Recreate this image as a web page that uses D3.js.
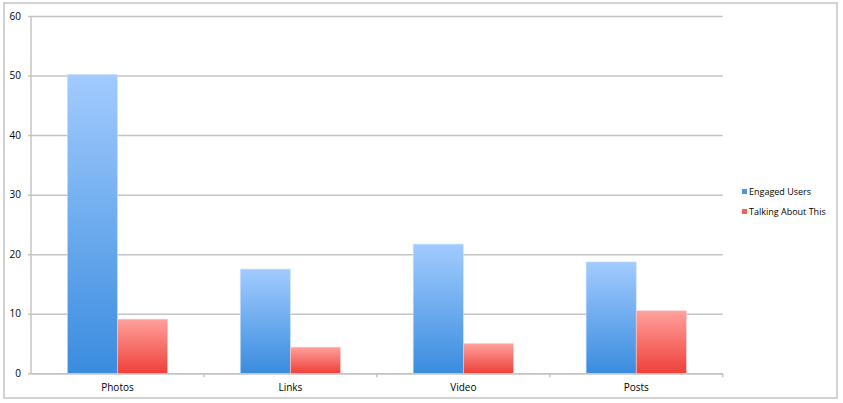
<!DOCTYPE html>
<html>
<head>
<meta charset="utf-8">
<script src="https://cdn.jsdelivr.net/npm/d3@7"></script>
<style>
  body { margin: 0; background: #fff; }
  text { font-family: "Open Sans", "DejaVu Sans", sans-serif; fill: #000; }
</style>
</head>
<body>
<svg id="chart" width="843" height="403"></svg>
<script>
// datos
const categorias = ['Photos', 'Links', 'Video', 'Posts'];
const engagedUsers = [50.2, 17.5, 21.7, 18.7];
const talkingAbout = [9.1, 4.4, 5.0, 10.5];
const series = ['Engaged Users', 'Talking About This'];
const ticksY = [0, 10, 20, 30, 40, 50, 60];

const svg = d3.select('#chart');

// borde exterior del grafico
svg.append('rect')
  .attr('x', 4).attr('y', 3)
  .attr('width', 833).attr('height', 395)
  .attr('fill', 'none')
  .attr('stroke', '#c4c4c4')
  .attr('stroke-width', 1.5);

const margenIzq = 31, margenDer = 722.7, margenSup = 16, margenInf = 373.3;

const x = d3.scaleBand()
  .domain(categorias)
  .range([margenIzq, margenDer])
  .paddingInner(0.42)
  .paddingOuter(0.21);

const xSub = d3.scaleBand()
  .domain(series)
  .range([0, x.bandwidth()]);

const y = d3.scaleLinear().domain([0, 60]).range([margenInf, margenSup]);

// gradientes por barra
const defs = svg.append('defs');
const grad = (id, c1, c2) => {
  const g = defs.append('linearGradient')
    .attr('id', id).attr('x1', 0).attr('y1', 0).attr('x2', 0).attr('y2', 1);
  g.append('stop').attr('offset', '0%').attr('stop-color', c1);
  g.append('stop').attr('offset', '100%').attr('stop-color', c2);
};
grad('gAzul', '#a2cbff', '#3a8cde');
grad('gRojo', '#ffa19d', '#ef4039');

// lineas de la cuadricula
svg.append('g')
  .attr('transform', `translate(${margenIzq},0)`)
  .call(d3.axisLeft(y).tickValues(ticksY).tickSize(-(margenDer - margenIzq)).tickSizeOuter(0).tickPadding(6))
  .call(g => g.select('.domain').remove())
  .call(g => g.selectAll('.tick line').attr('stroke', '#c4c4c4').attr('stroke-width', 1.5).attr('x1', -3))
  .call(g => g.selectAll('.tick text').attr('font-size', 10).attr('x', -10));

// eje vertical
svg.append('line')
  .attr('x1', margenIzq).attr('x2', margenIzq)
  .attr('y1', margenSup).attr('y2', margenInf)
  .attr('stroke', '#c4c4c4').attr('stroke-width', 1.5);

// barras
const datos = categorias.map((c, i) => ({ cat: c, vals: [engagedUsers[i], talkingAbout[i]] }));
const grupos = svg.append('g').selectAll('g')
  .data(datos).join('g')
  .attr('transform', d => `translate(${x(d.cat)},0)`);

grupos.selectAll('rect')
  .data(d => d.vals.map((v, j) => ({ s: series[j], v })))
  .join('rect')
  .attr('x', d => xSub(d.s))
  .attr('y', d => y(d.v))
  .attr('width', xSub.bandwidth())
  .attr('height', d => y(0) - y(d.v))
  .attr('fill', d => d.s === series[0] ? 'url(#gAzul)' : 'url(#gRojo)')
  .attr('stroke', d => d.s === series[0] ? '#cfe3fb' : '#fbd0ce')
  .attr('stroke-width', 0.6);

// eje horizontal
const paso = x.step();
svg.append('g')
  .attr('transform', `translate(0,${margenInf})`)
  .call(d3.axisBottom(x).tickSize(0).tickPadding(11))
  .call(g => g.select('.domain').attr('stroke', '#c4c4c4').attr('stroke-width', 1.5))
  .call(g => g.selectAll('.tick text').attr('font-size', 10));

// marcas entre categorias
svg.append('g').selectAll('line')
  .data(d3.range(1, categorias.length + 1))
  .join('line')
  .attr('x1', i => margenIzq + i * paso).attr('x2', i => margenIzq + i * paso)
  .attr('y1', margenInf).attr('y2', margenInf + 4)
  .attr('stroke', '#c4c4c4').attr('stroke-width', 1.5);

// leyenda
const leyenda = svg.append('g').attr('transform', 'translate(742,0)');
const colores = ['#4a94e6', '#f4605a'];
series.forEach((s, i) => {
  const yy = 192 + i * 20;
  leyenda.append('rect')
    .attr('x', 0).attr('y', yy - 3)
    .attr('width', 5).attr('height', 5)
    .attr('fill', colores[i]);
  leyenda.append('text')
    .attr('x', 7).attr('y', yy)
    .attr('dy', '0.35em')
    .attr('font-size', 9)
    .text(s);
});
</script>
</body>
</html>
